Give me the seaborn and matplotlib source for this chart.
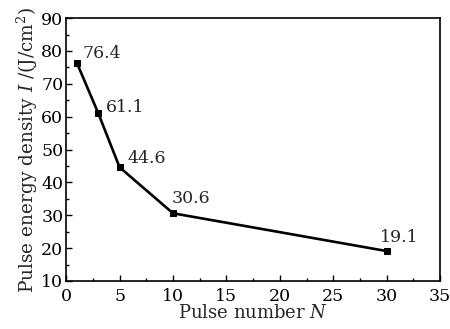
import matplotlib
matplotlib.use("Agg")
import matplotlib.pyplot as plt
import seaborn as sns
import pandas as pd
from matplotlib.ticker import MultipleLocator

pulse_number = [1, 3, 5, 10, 30]
energy_density = [76.4, 61.1, 44.6, 30.6, 19.1]
point_labels = ["76.4", "61.1", "44.6", "30.6", "19.1"]

sns.set_style("ticks")
plt.rcParams['font.family'] = ['DejaVu Serif']
plt.rcParams['mathtext.fontset'] = 'dejavuserif'

df = pd.DataFrame({"N": pulse_number, "I": energy_density})

fig = plt.figure(figsize=(4.5, 3.29), dpi=100)
ax = fig.add_axes([0.147, 0.146, 0.831, 0.799])
sns.lineplot(data=df, x="N", y="I", ax=ax, color="black", linewidth=1.9,
             marker="s", markersize=5, markeredgecolor="black")

offsets = [(4.3, 6.5), (5.8, 4.3), (5.8, 6.5), (-0.7, 10.8), (-5, 10)]
for x, y, lab, off in zip(pulse_number, energy_density, point_labels, offsets):
    ax.annotate(lab, (x, y), xytext=off, textcoords="offset points",
                fontsize=12.5, ha="left", va="center")

ax.set_xlim(0, 35)
ax.set_ylim(10, 90)
ax.xaxis.set_major_locator(MultipleLocator(5))
ax.xaxis.set_minor_locator(MultipleLocator(2.5))
ax.yaxis.set_major_locator(MultipleLocator(10))
ax.yaxis.set_minor_locator(MultipleLocator(5))
ax.tick_params(which="both", direction="in", top=False, right=False,
               labelsize=12.5, width=1, colors="black")
ax.tick_params(axis="y", pad=2)
ax.tick_params(axis="x", pad=5)
ax.tick_params(which="major", length=4)
ax.tick_params(which="minor", length=2.5)
for s in ax.spines.values():
    s.set_linewidth(1.2)
    s.set_color("black")
ax.set_xlabel("Pulse number $N$", fontsize=13, labelpad=-1)
ax.set_ylabel("Pulse energy density $I$ /(J/cm$^2$)", fontsize=13.3, labelpad=1)

fig.savefig("out.png", dpi=100)
